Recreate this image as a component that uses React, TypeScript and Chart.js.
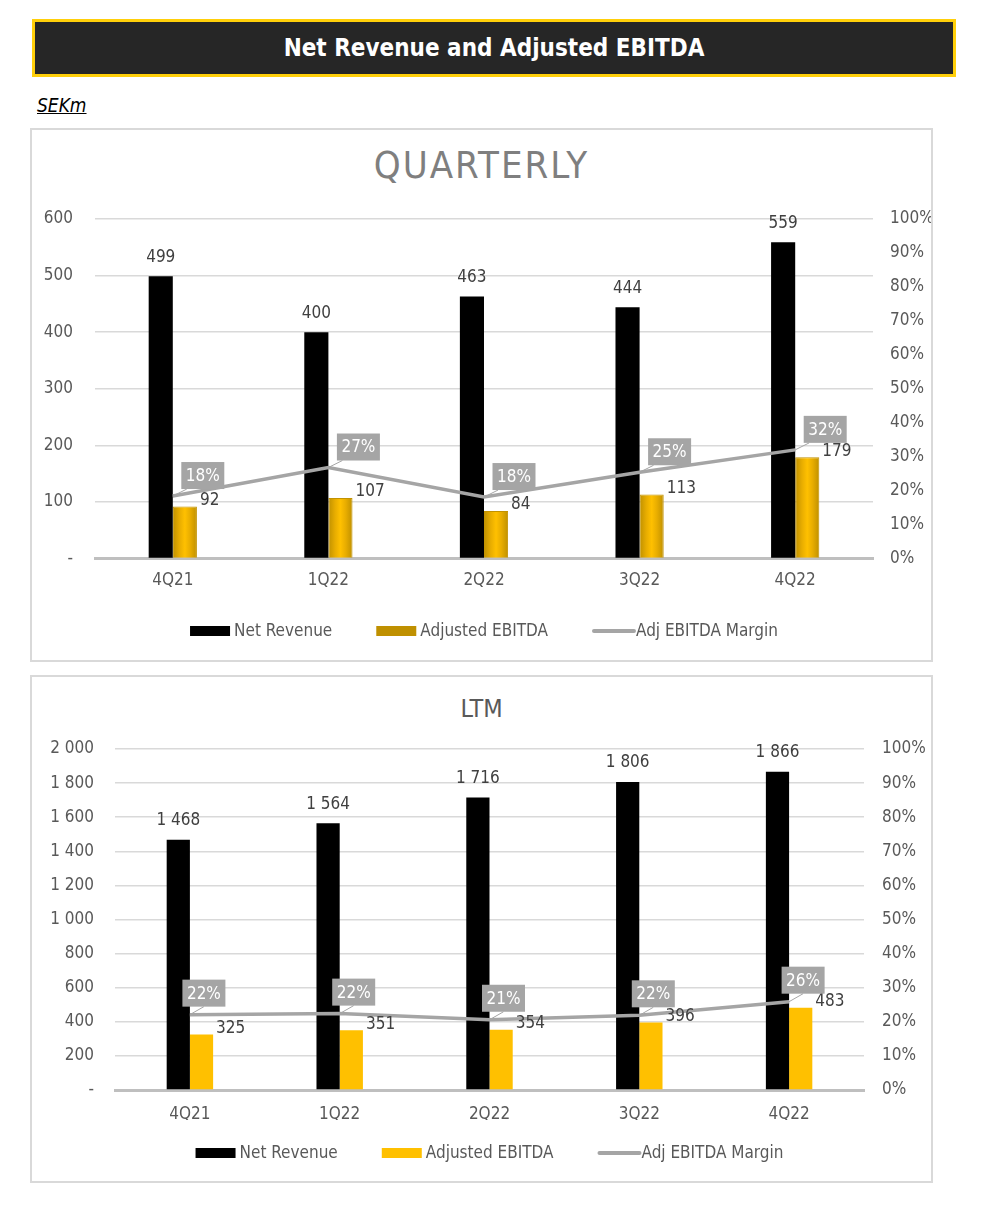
import React, { useEffect, useRef } from 'react';
import { Chart, registerables } from 'chart.js';

Chart.register(...registerables);

// ---------- DATA ----------
const categories = ['4Q21', '1Q22', '2Q22', '3Q22', '4Q22'];
const seriesNames = ['Net Revenue', 'Adjusted EBITDA', 'Adj EBITDA Margin'];

const quarterlyRevenue = [499, 400, 463, 444, 559];
const quarterlyEbitda = [92, 107, 84, 113, 179];
const quarterlyMargin = [18.4, 26.8, 18.1, 25.4, 32.0];

const ltmRevenue = [1468, 1564, 1716, 1806, 1866];
const ltmEbitda = [325, 351, 354, 396, 483];
const ltmMargin = [22.1, 22.4, 20.6, 21.9, 25.9];

const quarterlyLeftAxis = { max: 600, step: 100 };
const ltmLeftAxis = { max: 2000, step: 200 };
const marginAxis = { max: 100, step: 10 };

// ---------- STYLE ----------
const FONT = '"DejaVu Sans Condensed", "Open Sans", sans-serif';
const GRID = '#d9d9d9';
const AXIS_TEXT = '#595959';
const LABEL_TEXT = '#404040';
const LINE_GREY = '#a5a5a5';
const CLEAR = 'rgba(0,0,0,0)';

const fmtNum = (v: number) =>
  v === 0 ? '-' : String(v).replace(/\B(?=(\d{3})+(?!\d))/g, ' ');

type Cfg = {
  revenue: number[];
  ebitda: number[];
  margin: number[];
  left: { max: number; step: number };
  ebitdaColor: string;
  ebitdaLegend: string;
  gradient: boolean;
  padTop: number;
  padBottom: number;
  leftW: number;
  leftPad: number;
  rightW: number;
  rightPad: number;
  xPad: number;
  legendOffset: number;
  boxDx: number;
  boxDy: number;
};

const labelsPlugin = {
  id: 'customLabels',
  beforeDatasetDraw(chart: any, args: any, opts: any) {
    if (!opts.gradient || args.index !== 1) return;
    const ctx = chart.ctx;
    const meta = chart.getDatasetMeta(1);
    meta.data.forEach((el: any) => {
      const l = el.x - el.width / 2;
      const r = el.x + el.width / 2;
      const g = ctx.createLinearGradient(l, 0, r, 0);
      g.addColorStop(0, '#bf9000');
      g.addColorStop(0.28, '#e8ad00');
      g.addColorStop(0.5, '#ffc000');
      g.addColorStop(0.72, '#e8ad00');
      g.addColorStop(1, '#bf9000');
      el.options = Object.assign({}, el.options, { backgroundColor: g });
    });
  },
  afterDatasetsDraw(chart: any, _args: any, opts: any) {
    const ctx = chart.ctx;
    ctx.save();
    ctx.font = `17px ${FONT}`;
    ctx.fillStyle = LABEL_TEXT;
    // revenue labels
    const m0 = chart.getDatasetMeta(0);
    ctx.textAlign = 'center';
    ctx.textBaseline = 'middle';
    m0.data.forEach((el: any, i: number) => {
      ctx.fillText(fmtNum(chart.data.datasets[0].data[i]), el.x, el.y - 19);
    });
    // ebitda labels
    const m1 = chart.getDatasetMeta(1);
    ctx.textAlign = 'left';
    m1.data.forEach((el: any, i: number) => {
      ctx.fillText(fmtNum(chart.data.datasets[1].data[i]), el.x + el.width / 2 + 3, el.y - 6);
    });
    // margin boxes
    const m2 = chart.getDatasetMeta(2);
    m2.data.forEach((el: any, i: number) => {
      const txt = Math.round(chart.data.datasets[2].data[i]) + '%';
      const w = 43;
      const h = 27;
      const cx = el.x + opts.boxDx;
      const bottom = el.y + opts.boxDy;
      const left = cx - w / 2;
      ctx.strokeStyle = LINE_GREY;
      ctx.lineWidth = 1;
      ctx.beginPath();
      ctx.moveTo(el.x, el.y);
      ctx.lineTo(Math.max(left + 4, Math.min(cx, el.x + 14)), bottom);
      ctx.stroke();
      ctx.fillStyle = LINE_GREY;
      ctx.fillRect(left, bottom - h, w, h);
      ctx.fillStyle = '#ffffff';
      ctx.textAlign = 'center';
      ctx.fillText(txt, cx, bottom - h / 2 + 1);
    });
    ctx.restore();
  },
  afterDraw(chart: any, _args: any, opts: any) {
    const ctx = chart.ctx;
    const area = chart.chartArea;
    ctx.save();
    ctx.font = `17px ${FONT}`;
    ctx.textBaseline = 'middle';
    ctx.textAlign = 'left';
    const sw = 40;
    const gap = 4;
    const spacing = 44;
    const items = chart.data.datasets.map((d: any, i: number) => ({
      text: d.label,
      kind: i === 2 ? 'line' : 'box',
      color: i === 0 ? '#000000' : i === 1 ? opts.ebitdaLegend : LINE_GREY,
      w: sw + gap + ctx.measureText(d.label).width,
    }));
    const total = items.reduce((s: number, it: any) => s + it.w, 0) + spacing * (items.length - 1);
    let x = (area.left + area.right) / 2 - total / 2;
    const y = area.bottom + opts.legendOffset;
    items.forEach((it: any) => {
      if (it.kind === 'box') {
        ctx.fillStyle = it.color;
        ctx.fillRect(x, y - 5, sw, 10);
      } else {
        ctx.strokeStyle = it.color;
        ctx.lineWidth = 4;
        ctx.lineCap = 'round';
        ctx.beginPath();
        ctx.moveTo(x + 2, y);
        ctx.lineTo(x + sw + 2, y);
        ctx.stroke();
      }
      ctx.fillStyle = AXIS_TEXT;
      ctx.fillText(it.text, x + sw + gap, y + 1);
      x += it.w + spacing;
    });
    ctx.restore();
  },
};

function ComboChart({ cfg, width, height }: { cfg: Cfg; width: number; height: number }) {
  const ref = useRef<HTMLCanvasElement | null>(null);
  useEffect(() => {
    if (!ref.current) return;
    const chart = new Chart(ref.current, {
      type: 'bar',
      data: {
        labels: categories,
        datasets: [
          {
            type: 'bar',
            label: seriesNames[0],
            data: cfg.revenue,
            backgroundColor: '#000000',
            yAxisID: 'y',
            order: 2,
            categoryPercentage: 0.31,
            barPercentage: 1,
          } as any,
          {
            type: 'bar',
            label: seriesNames[1],
            data: cfg.ebitda,
            backgroundColor: cfg.ebitdaColor,
            borderColor: cfg.gradient ? '#c29200' : cfg.ebitdaColor,
            borderWidth: cfg.gradient ? 1 : 0,
            yAxisID: 'y',
            order: 2,
            categoryPercentage: 0.31,
            barPercentage: 1,
          } as any,
          {
            type: 'line',
            label: seriesNames[2],
            data: cfg.margin,
            borderColor: LINE_GREY,
            backgroundColor: LINE_GREY,
            borderWidth: 3.5,
            pointRadius: 0,
            yAxisID: 'y1',
            order: 0,
            tension: 0,
          } as any,
        ],
      },
      options: {
        responsive: false,
        animation: false,
        devicePixelRatio: 1,
        layout: { padding: { top: cfg.padTop, bottom: cfg.padBottom, left: 0, right: 0 } },
        plugins: {
          legend: { display: false },
          tooltip: { enabled: false },
          title: { display: false },
          customLabels: {
            gradient: cfg.gradient,
            ebitdaLegend: cfg.ebitdaLegend,
            legendOffset: cfg.legendOffset,
            boxDx: cfg.boxDx,
            boxDy: cfg.boxDy,
          },
        } as any,
        scales: {
          x: {
            offset: true,
            grid: { display: false, drawTicks: false },
            border: { display: true, color: '#bfbfbf', width: 3 },
            ticks: { color: AXIS_TEXT, font: { family: FONT, size: 17 }, padding: cfg.xPad },
            afterFit: (s: any) => {
              s.height = 30;
            },
          },
          y: {
            position: 'left',
            min: 0,
            max: cfg.left.max,
            grid: { color: GRID, lineWidth: 1.5, drawTicks: true, tickLength: cfg.leftPad, tickColor: CLEAR },
            border: { display: false },
            ticks: {
              stepSize: cfg.left.step,
              color: AXIS_TEXT,
              font: { family: FONT, size: 17 },
              padding: 0,
              callback: (v: any) => fmtNum(Number(v)),
            },
            afterFit: (s: any) => {
              s.width = cfg.leftW;
            },
          },
          y1: {
            position: 'right',
            min: 0,
            max: marginAxis.max,
            grid: { display: true, drawOnChartArea: false, drawTicks: true, tickLength: cfg.rightPad, tickColor: CLEAR },
            border: { display: false },
            ticks: {
              stepSize: marginAxis.step,
              color: AXIS_TEXT,
              font: { family: FONT, size: 17 },
              padding: 0,
              callback: (v: any) => v + '%',
            },
            afterFit: (s: any) => {
              s.width = cfg.rightW;
            },
          },
        },
      },
      plugins: [labelsPlugin],
    });
    return () => chart.destroy();
  }, [cfg]);
  return <canvas ref={ref} width={width} height={height} style={{ width, height, display: 'block' }} />;
}

const quarterlyCfg: Cfg = {
  revenue: quarterlyRevenue,
  ebitda: quarterlyEbitda,
  margin: quarterlyMargin,
  left: quarterlyLeftAxis,
  ebitdaColor: '#e0a800',
  ebitdaLegend: '#bf9000',
  gradient: true,
  padTop: 19,
  padBottom: 70.5,
  leftW: 63,
  leftPad: 22,
  rightW: 58,
  rightPad: 17,
  xPad: 12,
  legendOffset: 72.5,
  boxDx: 30,
  boxDy: -7,
};

const ltmCfg: Cfg = {
  revenue: ltmRevenue,
  ebitda: ltmEbitda,
  margin: ltmMargin,
  left: ltmLeftAxis,
  ebitdaColor: '#ffc000',
  ebitdaLegend: '#ffc000',
  gradient: false,
  padTop: 19,
  padBottom: 60,
  leftW: 83,
  leftPad: 21,
  rightW: 67,
  rightPad: 18,
  xPad: 14,
  legendOffset: 63,
  boxDx: 14,
  boxDy: -8,
};

export default function App() {
  const abs = (o: any) => ({ position: 'absolute' as const, ...o });
  return (
    <div style={abs({ left: 0, top: 0, width: 988, height: 1209, fontFamily: FONT, background: '#fff' })}>
      <div
        style={abs({
          left: 32,
          top: 19,
          width: 924,
          height: 58,
          boxSizing: 'border-box',
          border: '3px solid #ffcf0a',
          background: '#262626',
          color: '#ffffff',
          fontWeight: 'bold',
          fontSize: 24,
          display: 'flex',
          alignItems: 'center',
          justifyContent: 'center',
        })}
      >
        Net Revenue and Adjusted EBITDA
      </div>
      <div
        style={abs({
          left: 37,
          top: 94,
          height: 22,
          lineHeight: '22px',
          fontSize: 19,
          fontStyle: 'italic',
          textDecoration: 'underline',
          color: '#000',
        })}
      >
        SEKm
      </div>

      <div style={abs({ left: 30, top: 128, width: 903, height: 534, boxSizing: 'border-box', border: '2px solid #d9d9d9' })} />
      <div
        style={abs({
          left: 30,
          top: 145,
          width: 903,
          height: 40,
          lineHeight: '40px',
          textAlign: 'center',
          fontSize: 38,
          letterSpacing: 2,
          color: '#7f7f7f',
        })}
      >
        QUARTERLY
      </div>
      <div style={abs({ left: 32, top: 200 })}>
        <ComboChart cfg={quarterlyCfg} width={899} height={459} />
      </div>

      <div style={abs({ left: 30, top: 675, width: 903, height: 508, boxSizing: 'border-box', border: '2px solid #d9d9d9' })} />
      <div
        style={abs({
          left: 30,
          top: 694,
          width: 903,
          height: 30,
          lineHeight: '30px',
          textAlign: 'center',
          fontSize: 25,
          color: '#595959',
        })}
      >
        LTM
      </div>
      <div style={abs({ left: 32, top: 730 })}>
        <ComboChart cfg={ltmCfg} width={899} height={450} />
      </div>
    </div>
  );
}
